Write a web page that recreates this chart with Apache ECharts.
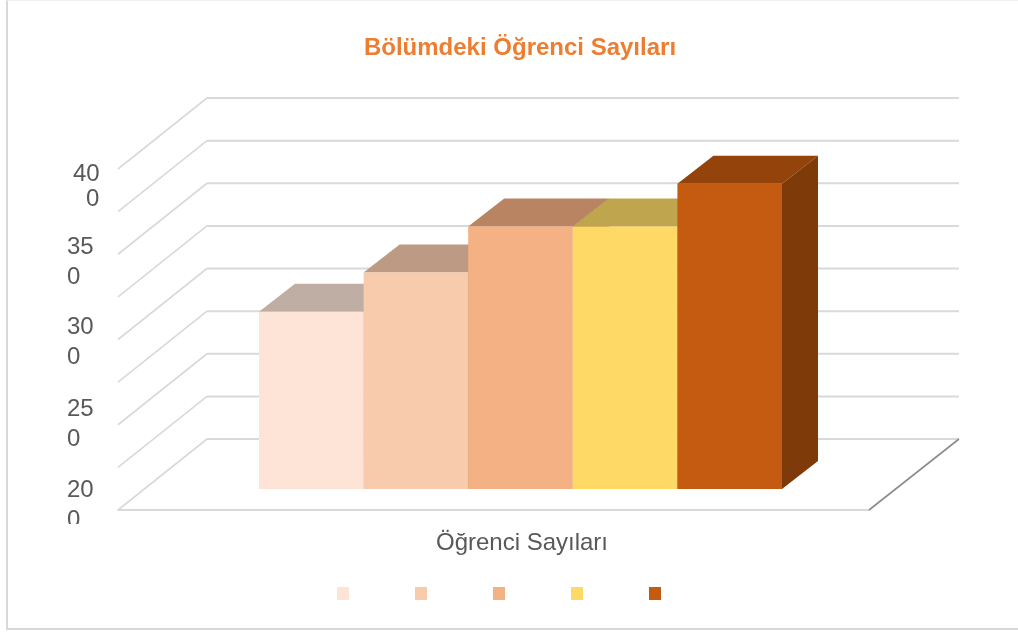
<!DOCTYPE html>
<html>
<head>
<meta charset="utf-8">
<style>
  html, body { margin: 0; background: #fff; }
  #chart { width: 1018px; height: 632px; }
</style>
<script src="https://cdn.jsdelivr.net/npm/echarts@6/dist/echarts.min.js"></script>
</head>
<body>
<div id="chart"></div>
<script>
const categories = ["Öğrenci Sayıları"];
const seriesNames = ["1", "2", "3", "4", "5"];
const studentCounts = [304, 327, 354, 354, 379];
const gridValues = [200, 225, 250, 275, 300, 325, 350, 375, 400];
const tickValues = [200, 250, 300, 350, 400];

const frontColors = ["#FDE4D7", "#F8CBAD", "#F4B183", "#FFD966", "#C55A11"];
const topColors = ["#BFAEA3", "#BC9A83", "#B88462", "#BFA54D", "#94430A"];
const sideColors = ["#A59489", "#A38269", "#9F6C4A", "#A68C35", "#7F3A0A"];

// label blocks in the picture do not sit exactly on their ticks
const labelDrop = [-5, -0.25, 2.5, 7.75, 17.5];
const labelIndent = [[0, 0], [0, 0], [0, 0], [0, 0], [6, 19]];
const labelLine = [30, 30, 30, 30, 25];

const wallDx = 89, wallDy = 71;
const barStart = 141, barWidth = 104.6;
const floorDy = 21, depthDx = 36, depthDy = 28;
const labelFont = "Liberation Sans";

function renderGrid(params, api) {
  const p = api.coord([0, api.value(1)]);
  const band = api.size([1, 0])[0];
  const left = p[0] - band / 2;
  const right = left + band;
  const backY = p[1] - wallDy;
  const children = [
    { type: "polyline", shape: { points: [[left, p[1]], [left + wallDx, backY]] },
      style: { stroke: "#d9d9d9", lineWidth: 1.6, fill: null } },
    { type: "polyline", shape: { points: [[left + wallDx, backY], [right + wallDx + 1, backY]] },
      style: { stroke: "#d9d9d9", lineWidth: 2, fill: null } },
  ];
  if (api.value(1) === gridValues[0]) {
    children.push({ type: "polyline", shape: { points: [[right, p[1]], [right + wallDx + 1, backY]] },
      style: { stroke: "#8c8c8c", lineWidth: 1.6, fill: null } });
  }
  return { type: "group", children };
}

function renderBar(i) {
  return function (params, api) {
    const p = api.coord([0, api.value(1)]);
    const base = api.coord([0, gridValues[0]]);
    const band = api.size([1, 0])[0];
    const x0 = p[0] - band / 2 + barStart + i * barWidth;
    const x1 = x0 + barWidth;
    const top = p[1] - floorDy;
    const bottom = base[1] - floorDy;
    return {
      type: "group",
      children: [
        { type: "polygon",
          shape: { points: [[x0, top], [x1, top], [x1 + depthDx, top - depthDy], [x0 + depthDx, top - depthDy]] },
          style: { fill: topColors[i] } },
        { type: "polygon",
          shape: { points: [[x1, top], [x1 + depthDx, top - depthDy], [x1 + depthDx, bottom - depthDy], [x1, bottom]] },
          style: { fill: sideColors[i] } },
        { type: "rect",
          shape: { x: x0, y: top, width: barWidth, height: bottom - top },
          style: { fill: frontColors[i] } },
      ],
    };
  };
}

const rich = {};
tickValues.forEach((v, i) => {
  const drop = labelDrop[i];
  const common = { fontFamily: labelFont, fontSize: 24, color: "#595959", lineHeight: labelLine[i] };
  const padTop = Math.max(0, drop * 2);
  const padBottom = Math.max(0, -drop * 2);
  rich["a" + i] = { ...common, padding: [padTop, 0, padBottom, labelIndent[i][0]] };
  rich["b" + i] = { ...common, padding: [padTop, 0, padBottom, labelIndent[i][1]] };
});

const chart = echarts.init(document.getElementById("chart"));
chart.setOption({
  animation: false,
  backgroundColor: "#fff",
  title: {
    text: "Bölümdeki Öğrenci Sayıları",
    left: 515,
    top: 31,
    textAlign: "center",
    textStyle: { fontFamily: labelFont, fontSize: 24, fontWeight: "bold", color: "#ED7D31" },
  },
  grid: { left: 118, top: 169, width: 751, height: 341 },
  legend: {
    left: 337,
    top: 587,
    padding: 0,
    icon: "rect",
    itemWidth: 12,
    itemHeight: 13,
    itemGap: 66,
    data: seriesNames,
    formatter: () => "",
  },
  xAxis: {
    type: "category",
    data: categories,
    axisTick: { show: false },
    axisLine: { lineStyle: { color: "#d9d9d9", width: 2 } },
    axisLabel: {
      margin: 21,
      padding: [0, 0, 0, 57],
      fontFamily: labelFont,
      fontSize: 24,
      color: "#595959",
    },
  },
  yAxis: {
    type: "value",
    min: 200,
    max: 400,
    interval: 50,
    axisLine: { show: false },
    axisTick: { show: false },
    splitLine: { show: false },
    axisLabel: {
      margin: 51,
      align: "left",
      formatter: (value) => {
        const i = tickValues.indexOf(value);
        const text = String(value);
        return "{a" + i + "|" + text.slice(0, 2) + "}\n{b" + i + "|" + text.slice(2) + "}";
      },
      rich,
    },
  },
  graphic: [
    { type: "rect", z: 100, shape: { x: 60, y: 524, width: 45, height: 24 }, style: { fill: "#fff" } },
    { type: "polyline", z: 100, shape: { points: [[1018, 629], [7, 629], [7, 0]] },
      style: { stroke: "#d9d9d9", lineWidth: 2, fill: null } },
    { type: "line", z: 100, shape: { x1: 7, y1: 0.5, x2: 1018, y2: 0.5 },
      style: { stroke: "#f0f0f0", lineWidth: 1 } },
  ],
  series: [
    {
      name: "grid",
      type: "custom",
      renderItem: renderGrid,
      encode: { x: 0, y: 1 },
      data: gridValues.map((v) => [0, v]),
      silent: true,
    },
    ...seriesNames.map((name, i) => ({
      name,
      type: "custom",
      renderItem: renderBar(i),
      encode: { x: 0, y: 1 },
      itemStyle: { color: frontColors[i] },
      data: [[0, studentCounts[i]]],
    })),
  ],
});
</script>
</body>
</html>
